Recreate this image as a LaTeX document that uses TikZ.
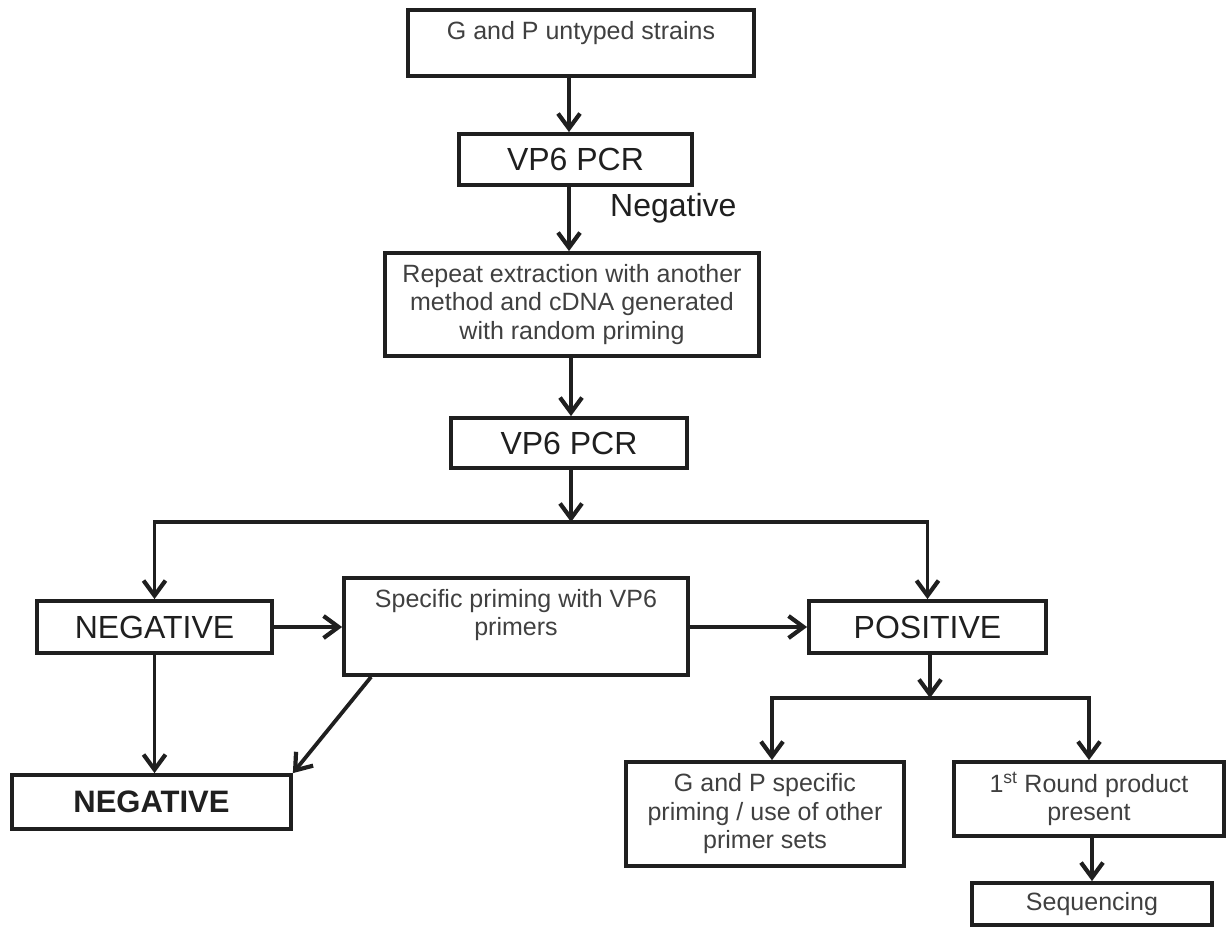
\documentclass[tikz,border=0pt]{standalone}
\usepackage{fontspec}
\setmainfont{Liberation Sans}
\usetikzlibrary{arrows.meta,calc}
\begin{document}
\begin{tikzpicture}[x=1pt,y=-1pt,
  box/.style={draw=black!88, line width=3.8pt, inner sep=0pt, align=center},
  smalltxt/.style={font=\fontsize{25}{28.5}\selectfont, text=black!75, align=center, inner sep=0pt},
  bigtxt/.style={font=\fontsize{32}{36}\selectfont, text=black!88},
  boldtxt/.style={font=\fontsize{31}{36}\selectfont\bfseries, text=black!88},
  arr/.style={draw=black!88, line width=3.8pt, -{Straight Barb[length=15pt,width=22pt,line width=4.2pt]}},
  conn/.style={draw=black!88, line width=3.8pt}
]
\useasboundingbox (0,0) rectangle (1231,929);

% boxes
\node[box, minimum width=346, minimum height=66] (b1) at (581,43) {};
\node[smalltxt] (t1) at (581,33) {G and P untyped strains};
\node[box, bigtxt, minimum width=233, minimum height=51] (b2) at (575.5,159.5) {VP6 PCR};
\node[box, smalltxt, minimum width=374, minimum height=103] (b3) at (572,304.5)
  {Repeat extraction with another\\method and cDNA generated\\with random priming};
\node[box, bigtxt, minimum width=236, minimum height=50] (b4) at (569,443) {VP6 PCR};
\node[box, bigtxt, minimum width=235, minimum height=52] (n1) at (154.5,627) {NEGATIVE};
\node[box, minimum width=344, minimum height=97] (b7) at (516,626.5) {};
\node[smalltxt] (t7) at (516,615) {Specific priming with VP6\\primers};
\node[box, bigtxt, minimum width=237, minimum height=52] (p1) at (927.5,627) {POSITIVE};
\node[box, boldtxt, minimum width=279, minimum height=54] (n2) at (151.5,802) {NEGATIVE};
\node[box, smalltxt, minimum width=278, minimum height=104] (b10) at (765,814)
  {G and P specific\\priming / use of other\\primer sets};
\node[box, smalltxt, minimum width=270, minimum height=74] (b11) at (1089,799)
  {1\textsuperscript{st} Round product\\present};
\node[box, smalltxt, minimum width=240, minimum height=42] (seq) at (1092,904) {Sequencing};

% label
\node[bigtxt, anchor=west, inner sep=0pt] (neglab) at (610,208) {Negative};

% helper coordinates
\coordinate (a1) at (569,0);
\coordinate (a3) at (571,0);
\coordinate (j1) at (571,522);
\coordinate (j2) at (930,698);

% connectors
\draw[arr] (b1.south -| a1) -- (b2.north -| a1);
\draw[arr] (b2.south -| a1) -- (b3.north -| a1);
\draw[arr] (b3.south -| a3) -- (b4.north -| a3);
\draw[arr] (b4.south -| a3) -- (j1);
\draw[arr] (j1) -| (n1.north);
\draw[arr] (j1) -| (p1.north);
\draw[arr] (n1.east) -- (n1.east -| b7.west);
\draw[arr] (b7.east |- p1.west) -- (p1.west);
\draw[arr] (n1.south) -- (n1.south |- n2.north);
\draw[arr] ([xshift=29pt]b7.south west) -- (n2.north east);
\draw[arr] (p1.south -| j2) -- (j2);
\draw[arr] (j2) -| ([xshift=7pt]b10.north);
\draw[arr] (j2) -| (b11.north);
\draw[arr] (seq.north |- b11.south) -- (seq.north);
\end{tikzpicture}
\end{document}
